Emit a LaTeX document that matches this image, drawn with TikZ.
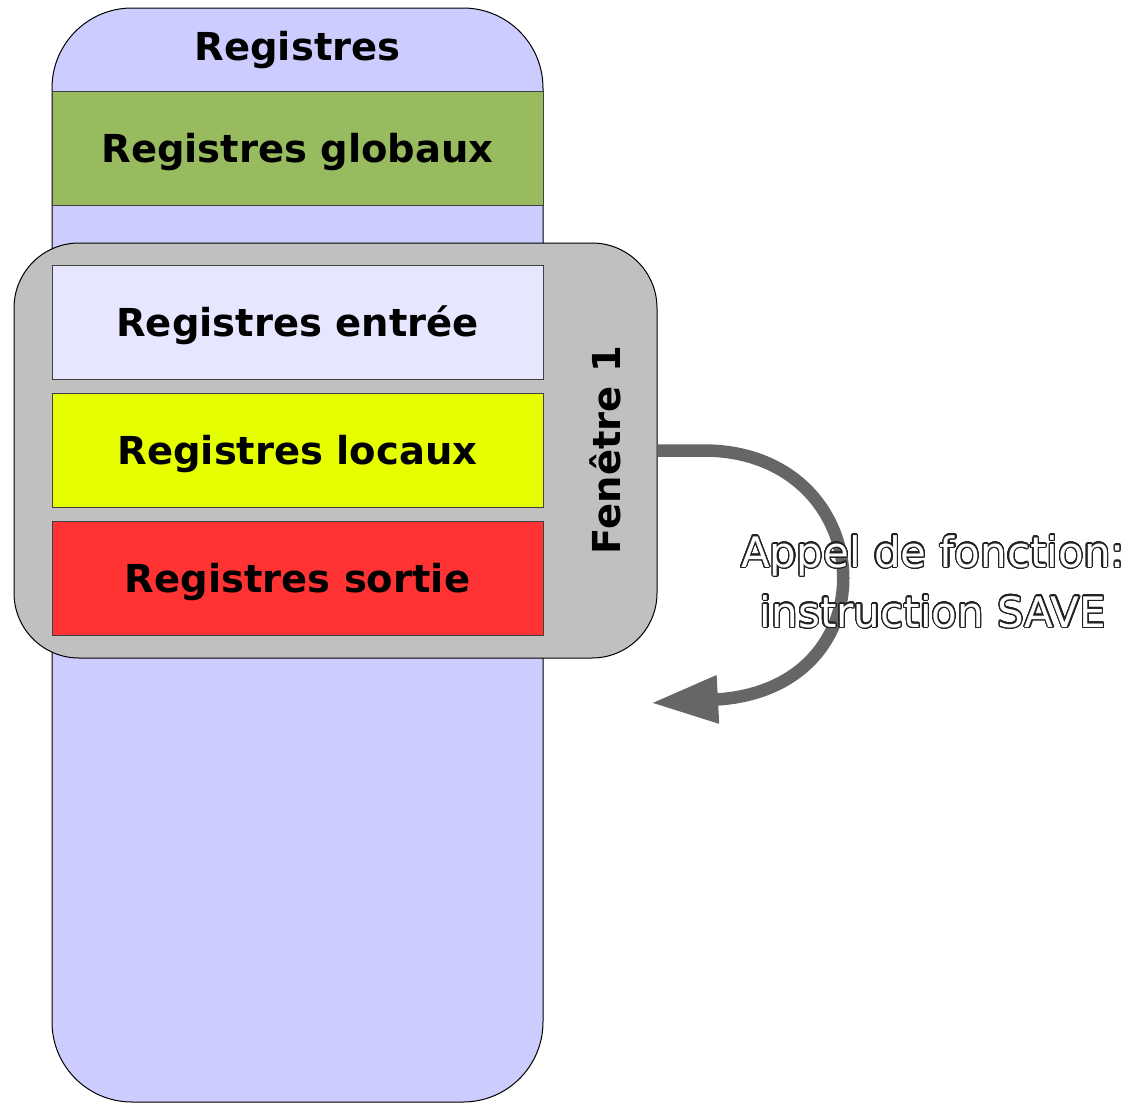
\documentclass[tikz,border=0pt]{standalone}
\usepackage{fontspec}
\setmainfont{DejaVu Sans}
\usepackage{contour}
\contourlength{1.2pt}
\contournumber{32}
\usetikzlibrary{arrows.meta}
\definecolor{colbg}{HTML}{CCCCFF}
\definecolor{globc}{HTML}{99BB5F}
\definecolor{entc}{HTML}{E6E6FF}
\definecolor{locc}{HTML}{E6FF00}
\definecolor{sortc}{HTML}{FF3333}
\definecolor{fenc}{HTML}{C0C0C0}
\definecolor{arrc}{HTML}{666666}
\definecolor{outc}{HTML}{222222}
\tikzset{
  regbox/.style={draw=black!75, line width=1pt, inner sep=0pt, minimum width=491pt, minimum height=114pt, font=\bfseries\fontsize{38.5}{44}\selectfont},
  lbl/.style={inner sep=0pt, font=\bfseries\fontsize{38.5}{44}\selectfont},
}
\begin{document}
\begin{tikzpicture}[x=1pt,y=-1pt]
\useasboundingbox (0,0) rectangle (1141,1103);
% register column
\node[draw=black, line width=1pt, fill=colbg, rounded corners=80pt, minimum width=491pt, minimum height=1094pt, inner sep=0pt] (col) at (297.5,555) {};
\node[lbl] (hdr) at (297.5,50) {Registres};
\node[regbox, fill=globc, text depth=0pt, text height=28pt] (glob) at (297.5,148) {Registres globaux};
% window
\node[draw=black, line width=1pt, fill=fenc, rounded corners=65pt, minimum width=643pt, minimum height=415pt, inner sep=0pt] (fen) at (335.5,450.5) {};
\node[regbox, fill=entc, text depth=0pt, text height=28pt] (entree) at (297.5,322.5) {Registres entrée};
\node[regbox, fill=locc, text depth=0pt, text height=28pt] (locaux) at (297.5,450.5) {Registres locaux};
\node[regbox, fill=sortc, text depth=0pt, text height=28pt] (sortie) at (297.5,578.5) {Registres sortie};
\node[lbl, rotate=90] (fentxt) at (605,450) {Fenêtre 1};
% arrow
\coordinate (tip) at (651,703);
\draw[arrc, line width=12.5pt, -{Triangle[length=67pt,width=45pt]}]
  (fen.east) -- (705,450.5) .. controls (880,452) and (895,690) .. (tip);
% label
\node[inner sep=0pt, align=center, text=white, font=\fontsize{42}{60}\selectfont] (call) at (933,582)
  {\contour{outc}{Appel de fonction:}\\\contour{outc}{instruction SAVE}};
\end{tikzpicture}
\end{document}
